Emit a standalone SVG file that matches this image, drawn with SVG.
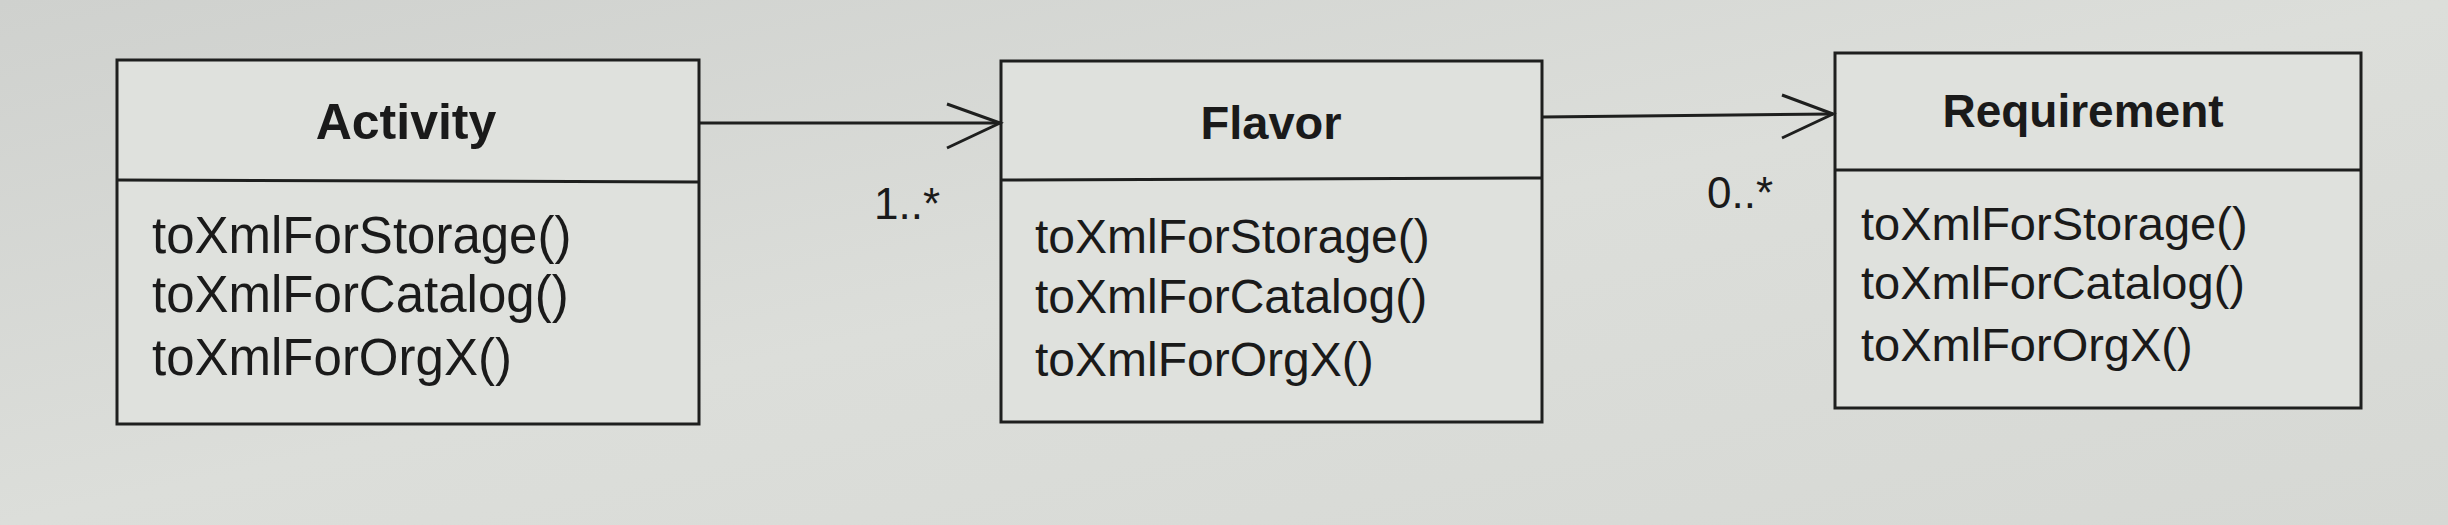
<svg xmlns="http://www.w3.org/2000/svg" width="2448" height="525" viewBox="0 0 2448 525">
  <defs>
    <style>
      .box { fill: #dfe1dd; stroke: #1e1f1e; stroke-width: 3; }
      .div { stroke: #1e1f1e; stroke-width: 3; fill: none; }
      .title { font-family: "Liberation Sans", Arial, sans-serif; font-weight: bold; font-size: 48px; fill: #1a1a1a; text-anchor: middle; }
      .meth { font-family: "Liberation Sans", Arial, sans-serif; fill: #1a1a1a; }
      .mult { font-family: "Liberation Sans", Arial, sans-serif; font-size: 44px; fill: #1a1a1a; }
      .conn { stroke: #1e1f1e; stroke-width: 3; fill: none; }
    </style>
    <linearGradient id="bg" x1="0" y1="0" x2="1" y2="1">
      <stop offset="0" stop-color="#cfd1ce"/>
      <stop offset="0.5" stop-color="#dcdeda"/>
      <stop offset="1" stop-color="#d6d8d4"/>
    </linearGradient>
  </defs>
  <rect x="0" y="0" width="2448" height="525" fill="url(#bg)"/>

  <g id="activity">
    <rect class="box" x="117" y="60" width="582" height="364"/>
    <line class="div" x1="117" y1="180" x2="699" y2="182"/>
    <text class="title" x="406" y="139" style="font-size:50px">Activity</text>
    <text class="meth" x="152" y="253" font-size="51">toXmlForStorage()</text>
    <text class="meth" x="152" y="312" font-size="51">toXmlForCatalog()</text>
    <text class="meth" x="152" y="375" font-size="51">toXmlForOrgX()</text>
  </g>

  <g id="flavor">
    <rect class="box" x="1001" y="61" width="541" height="361"/>
    <line class="div" x1="1001" y1="180" x2="1542" y2="178"/>
    <text class="title" x="1271" y="139" style="font-size:47px">Flavor</text>
    <text class="meth" x="1035" y="253" font-size="48">toXmlForStorage()</text>
    <text class="meth" x="1035" y="313" font-size="48">toXmlForCatalog()</text>
    <text class="meth" x="1035" y="376" font-size="48">toXmlForOrgX()</text>
  </g>

  <g id="requirement">
    <rect class="box" x="1835" y="53" width="526" height="355"/>
    <line class="div" x1="1835" y1="170" x2="2361" y2="170"/>
    <text class="title" x="2083" y="127" style="font-size:46px">Requirement</text>
    <text class="meth" x="1861" y="240" font-size="47">toXmlForStorage()</text>
    <text class="meth" x="1861" y="299" font-size="47">toXmlForCatalog()</text>
    <text class="meth" x="1861" y="361" font-size="47">toXmlForOrgX()</text>
  </g>

  <g id="connectors">
    <line class="conn" x1="699" y1="123" x2="1000" y2="123"/>
    <polyline class="conn" points="947,104 1000,123 947,148"/>
    <text class="mult" x="874" y="219">1..*</text>
    <line class="conn" x1="1542" y1="117" x2="1833" y2="114"/>
    <polyline class="conn" points="1782,95 1833,114 1782,138"/>
    <text class="mult" x="1707" y="208">0..*</text>
  </g>
</svg>
